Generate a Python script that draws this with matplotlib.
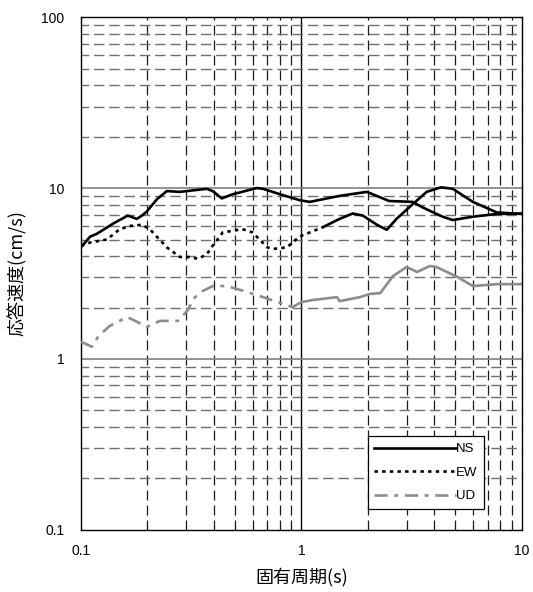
import matplotlib
matplotlib.use("Agg")
import matplotlib.pyplot as plt
from matplotlib.ticker import FixedLocator, NullFormatter

plt.rcParams['font.family'] = ['Liberation Sans', 'Noto Sans CJK JP', 'DejaVu Sans']

# NS
ns_t = [0.1, 0.11, 0.118, 0.14, 0.163, 0.179, 0.189, 0.199, 0.221, 0.245, 0.281, 0.372,
        0.396, 0.435, 0.488, 0.627, 0.67, 0.8, 0.98, 1.09, 1.49, 1.98, 2.5, 3.2, 3.55,
        4.37, 4.86, 6.0, 7.7, 10.0]
ns_v = [4.5, 5.2, 5.4, 6.2, 6.9, 6.6, 6.9, 7.3, 8.6, 9.6, 9.5, 9.9,
        9.6, 8.7, 9.2, 10.0, 9.9, 9.2, 8.5, 8.3, 9.0, 9.5, 8.4, 8.3, 7.7,
        6.8, 6.5, 6.8, 7.05, 7.1]

# EW
ew_t = [0.1, 0.11, 0.131, 0.15, 0.167, 0.189, 0.205, 0.245, 0.281, 0.312, 0.34, 0.372,
        0.396, 0.44, 0.54, 0.6, 0.7, 0.74, 0.86, 0.98, 1.25, 1.49, 1.71, 1.9, 2.2,
        2.44, 2.7, 3.2, 3.7, 4.3, 4.86, 6.0, 7.7, 10.0]
ew_v = [4.6, 4.8, 5.0, 5.75, 6.0, 6.1, 5.75, 4.5, 3.95, 3.95, 3.85, 4.1,
        4.6, 5.5, 5.75, 5.5, 4.5, 4.4, 4.5, 5.2, 5.9, 6.6, 7.1, 6.9, 6.1,
        5.7, 6.6, 8.05, 9.5, 10.1, 9.9, 8.3, 7.2, 7.05]

# UD
ud_t = [0.1, 0.112, 0.12, 0.135, 0.162, 0.176, 0.199, 0.228, 0.275, 0.303, 0.329, 0.357,
        0.396, 0.459, 0.565, 0.67, 0.8, 0.91, 1.0, 1.12, 1.45, 1.49, 1.84, 2.05, 2.28,
        2.6, 3.0, 3.35, 3.83, 4.1, 5.1, 6.0, 7.7, 10.0]
ud_v = [1.26, 1.18, 1.36, 1.56, 1.76, 1.67, 1.54, 1.67, 1.67, 1.91, 2.3, 2.5,
        2.67, 2.67, 2.47, 2.3, 2.13, 2.01, 2.15, 2.21, 2.3, 2.18, 2.3, 2.4, 2.43,
        3.05, 3.45, 3.23, 3.5, 3.45, 3.02, 2.67, 2.74, 2.74]


def split(t, v, cut):
    a = [(x, y) for x, y in zip(t, v) if x <= cut]
    b = [(x, y) for x, y in zip(t, v) if x >= cut]
    if b and b[0][0] > cut:
        b.insert(0, a[-1])
    return list(zip(*a)), list(zip(*b))


fig = plt.figure(figsize=(5.33, 5.92), dpi=100)
ax = fig.add_axes([0.152, 0.105, 0.827, 0.866])
ax.set_xscale('log')
ax.set_yscale('log')
ax.set_xlim(0.1, 10)
ax.set_ylim(0.1, 100)

# grid
minor = [m * 10.0 ** e for e in (-1, 0, 1) for m in range(2, 10)]
for x in minor:
    if 0.1 < x < 10:
        ax.axvline(x, color='#1a1a1a', lw=0.9, ls=(0, (8, 4)), zorder=1)
ax.axvline(1, color='black', lw=1.0, zorder=1)
for y in minor:
    if 0.1 < y < 100:
        ax.axhline(y, color='#6e6e6e', lw=1.0, ls=(2, (7.5, 3.5)), zorder=1)
for y in (1, 10):
    ax.axhline(y, color='#808080', lw=1.2, zorder=1)

ew_a, ew_b = split(ew_t, ew_v, 1.3)
ud_a, ud_b = split(ud_t, ud_v, 1.0)

ax.plot(ns_t, ns_v, color='black', lw=1.9, label='NS', zorder=3)
ax.plot(ew_a[0], ew_a[1], color='black', lw=1.9, ls=(0, (1.3, 1.6)), label='EW', zorder=3)
ax.plot(ew_b[0], ew_b[1], color='black', lw=1.9, zorder=3)
ax.plot(ud_a[0], ud_a[1], color='#8c8c8c', lw=1.9, ls=(0, (5, 2.5, 1.5, 2.5)), label='UD', zorder=3)
ax.plot(ud_b[0], ud_b[1], color='#8c8c8c', lw=1.9, zorder=3)

ax.xaxis.set_major_locator(FixedLocator([0.1, 1, 10]))
ax.yaxis.set_major_locator(FixedLocator([0.1, 1, 10, 100]))
ax.xaxis.set_minor_formatter(NullFormatter())
ax.yaxis.set_minor_formatter(NullFormatter())
ax.set_xticklabels(['0.1', '1', '10'])
ax.set_yticklabels(['0.1', '1', '10', '100'])
ax.tick_params(which='both', length=0, labelsize=10)
ax.tick_params(axis='x', pad=10)
ax.tick_params(axis='y', pad=12)
for s in ax.spines.values():
    s.set_color('black')
    s.set_linewidth(1.0)

ax.set_xlabel('固有周期(s)', fontsize=13, family=['Noto Sans CJK JP'], labelpad=7)
ax.set_ylabel('応答速度(cm/s)', fontsize=13, family=['Noto Sans CJK JP'], labelpad=10)

leg = ax.legend(loc='lower right', bbox_to_anchor=(0.914, 0.041), frameon=True,
                fancybox=False, edgecolor='black', framealpha=1, fontsize=9.5,
                handlelength=6.2, handletextpad=0.0, borderpad=0.5, labelspacing=0.85,
                borderaxespad=0)
leg.get_frame().set_linewidth(0.9)

fig.savefig('out.png', dpi=100)
